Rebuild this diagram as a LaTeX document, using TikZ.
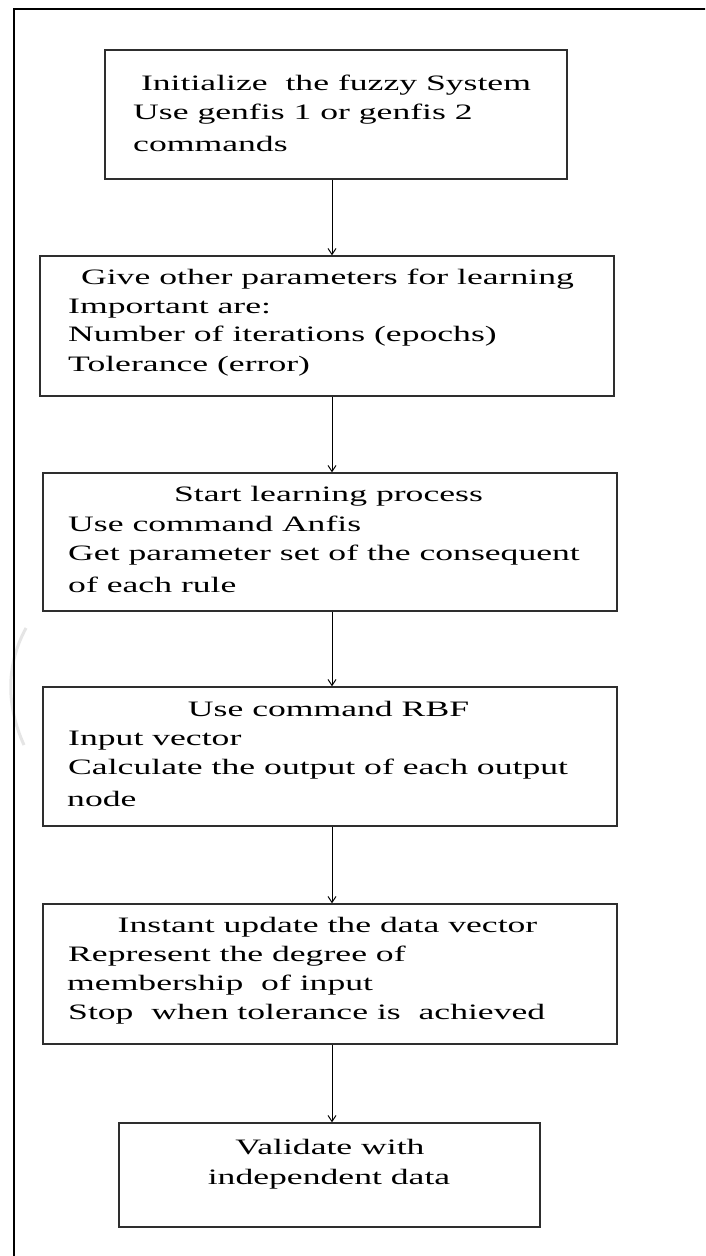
\documentclass[tikz,border=0pt]{standalone}
\usepackage{fontspec}
\setmainfont[FakeStretch=1.62]{Liberation Serif}
\usetikzlibrary{arrows.meta}
\begin{document}
\begin{tikzpicture}[x=1pt,y=-1pt,
  box/.style={draw=black!82,line width=1.3pt,inner sep=0pt,fill=none},
  txt/.style={inner sep=0pt,anchor=base west,font=\fontsize{22}{26}\selectfont},
  ctr/.style={inner sep=0pt,anchor=base,font=\fontsize{22}{26}\selectfont},
  arr/.style={draw=black,line width=1pt,-{Straight Barb[length=6pt,width=8pt]}}]
\clip (0,0) rectangle (705,1256);
\fill[white] (0,0) rectangle (705,1256);
% faint watermark fragment
\draw[black!10,line width=3pt] (26,628) .. controls (6,665) and (6,705) .. (24,745);
% outer frame
\draw[black,line width=2pt] (14,9) rectangle (720,1270);
% boxes
\node[box,minimum width=462pt,minimum height=129pt] (b1) at (336,114.5) {};
\node[box,minimum width=574pt,minimum height=140pt] (b2) at (327,326) {};
\node[box,minimum width=574pt,minimum height=138pt] (b3) at (330,542) {};
\node[box,minimum width=574pt,minimum height=139pt] (b4) at (330,756.5) {};
\node[box,minimum width=574pt,minimum height=140pt] (b5) at (330,974) {};
\node[box,minimum width=421pt,minimum height=104pt] (b6) at (329.5,1175) {};
% texts
\node[ctr] (t11) at (336,90) {Initialize\ \ the fuzzy System};
\node[txt] (t12) at (133,119) {Use genfis 1 or genfis 2};
\node[txt] (t13) at (133,151) {commands};
\node[ctr] (t21) at (327.5,284) {Give other parameters for learning};
\node[txt] (t22) at (68,313) {Important are:};
\node[txt] (t23) at (68,341) {Number of iterations (epochs)};
\node[txt] (t24) at (68,371) {Tolerance (error)};
\node[ctr] (t31) at (328.5,501) {Start learning process};
\node[txt] (t32) at (68,531) {Use command Anfis};
\node[txt] (t33) at (68,560) {Get parameter set of the consequent};
\node[txt] (t34) at (68,592) {of each rule};
\node[ctr] (t41) at (328.5,716) {Use command RBF};
\node[txt] (t42) at (68,745) {Input vector};
\node[txt] (t43) at (68,774) {Calculate the output of each output};
\node[txt] (t44) at (67,806) {node};
\node[ctr] (t51) at (327.5,932) {Instant update the data vector};
\node[txt] (t52) at (68,961) {Represent the degree of};
\node[txt] (t53) at (67,990) {membership\ \ of input};
\node[txt] (t54) at (68,1019) {Stop\ \ when tolerance is\ \ achieved};
\node[ctr] (t61) at (330,1154) {Validate with};
\node[ctr] (t62) at (329,1184) {independent data};
% connectors
\coordinate (ax) at (332,0);
\draw[arr] (b1.south -| ax) -- (b2.north -| ax);
\draw[arr] (b2.south -| ax) -- (b3.north -| ax);
\draw[arr] (b3.south -| ax) -- (b4.north -| ax);
\draw[arr] (b4.south -| ax) -- (b5.north -| ax);
\draw[arr] (b5.south -| ax) -- (b6.north -| ax);
\end{tikzpicture}
\end{document}
